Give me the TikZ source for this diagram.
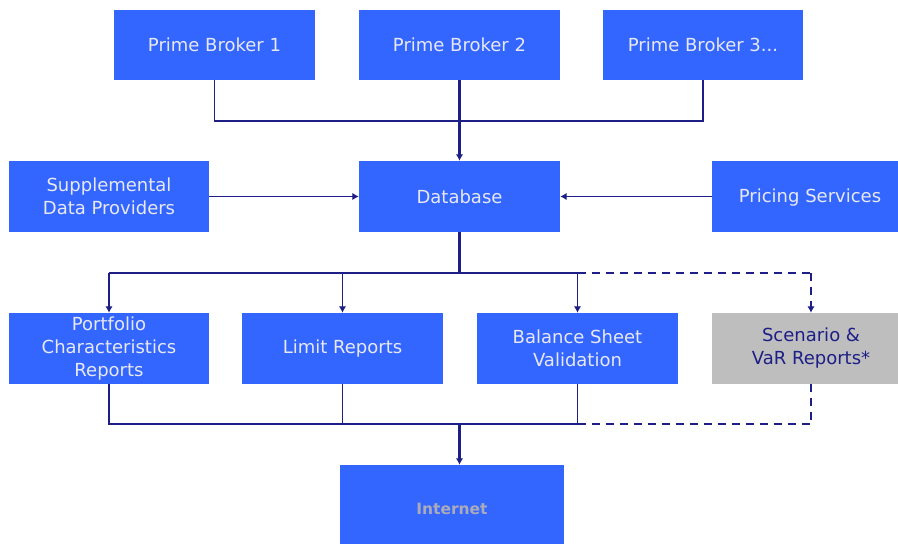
\documentclass[tikz,border=0pt]{standalone}
\usepackage{fontspec}
\setmainfont{DejaVu Sans}
\usetikzlibrary{arrows.meta}
\definecolor{boxblue}{RGB}{51,102,255}
\definecolor{boxgray}{RGB}{190,190,190}
\definecolor{navy}{RGB}{30,30,135}
\definecolor{lighttext}{RGB}{232,232,240}
\definecolor{nettext}{RGB}{170,170,185}
\begin{document}
\begin{tikzpicture}[x=1pt,y=-1pt,
  box/.style={fill=boxblue, draw=none, text=lighttext, align=center,
    inner sep=0pt, font=\fontsize{18}{23}\selectfont},
  graybox/.style={box, fill=boxgray, text=navy},
  conn/.style={draw=navy, line width=1.9pt},
  mainconn/.style={draw=navy, line width=2.6pt},
  dconn/.style={draw=navy, line width=1.9pt, dash pattern=on 8pt off 6pt},
  tip/.style={-{Latex[length=6.5pt,width=7.5pt]}}
]
\clip (0,0) rectangle (898,544);
\fill[white] (0,0) rectangle (898,544);
% top row
\node[box, minimum width=201pt, minimum height=70pt] (pb1) at (214.5,45) {Prime Broker 1};
\node[box, minimum width=201pt, minimum height=70pt] (pb2) at (459.5,45) {Prime Broker 2};
\node[box, minimum width=200pt, minimum height=70pt] (pb3) at (703,45) {Prime Broker 3...};
% middle row
\node[box, minimum width=200pt, minimum height=71pt] (sup) at (109,196.5) {Supplemental\\Data Providers};
\node[box, minimum width=201pt, minimum height=71pt] (db) at (459.5,196.5) {Database};
\node[box, minimum width=196pt, minimum height=71pt, text depth=1pt] (ps) at (810,196.5) {Pricing Services};
% report row
\node[box, minimum width=200pt, minimum height=71pt] (pc) at (109,348.5) {Portfolio\\Characteristics\\Reports};
\node[box, minimum width=201pt, minimum height=71pt] (lr) at (342.5,348.5) {Limit Reports};
\node[box, minimum width=201pt, minimum height=71pt] (bs) at (577.5,348.5) {Balance Sheet\\Validation};
\node[graybox, minimum width=198pt, minimum height=71pt] (sv) at (811,348.5) {Scenario \&\\VaR Reports*};
% internet
\node[box, minimum width=224pt, minimum height=88pt, text=nettext,
  font=\fontsize{15.5}{18}\bfseries\selectfont] (net) at (452,509) {Internet};
% bus coordinates
\coordinate (tb) at (459.5,121);
\coordinate (mb) at (459.5,273);
\coordinate (bb) at (459.5,424);
% top bus
\draw[conn] (pb1.south) -- (pb1.south |- tb) -- (pb3.south |- tb) -- (pb3.south);
\draw[mainconn, tip] (pb2.south) -- (db.north);
% side inputs
\draw[conn, tip] (sup.east) -- (db.west);
\draw[conn, tip] (ps.west |- db.east) -- (db.east);
% distribution bus
\draw[mainconn] (db.south) -- (mb);
\draw[conn] (pc.north |- mb) -- (bs.north |- mb);
\draw[conn, tip] (pc.north |- mb) -- (pc.north);
\draw[conn, tip] (lr.north |- mb) -- (lr.north);
\draw[conn, tip] (bs.north |- mb) -- (bs.north);
\draw[dconn] (bs.north |- mb) -- (sv.north |- mb);
\draw[dconn, tip] (sv.north |- mb) -- (sv.north);
% collection bus
\draw[conn] (pc.south) -- (pc.south |- bb) -- (bs.south |- bb) -- (bs.south);
\draw[conn] (lr.south) -- (lr.south |- bb);
\draw[dconn] (bs.south |- bb) -- (sv.south |- bb) -- (sv.south);
\draw[mainconn, tip] (bb) -- (bb |- net.north);
\end{tikzpicture}
\end{document}
